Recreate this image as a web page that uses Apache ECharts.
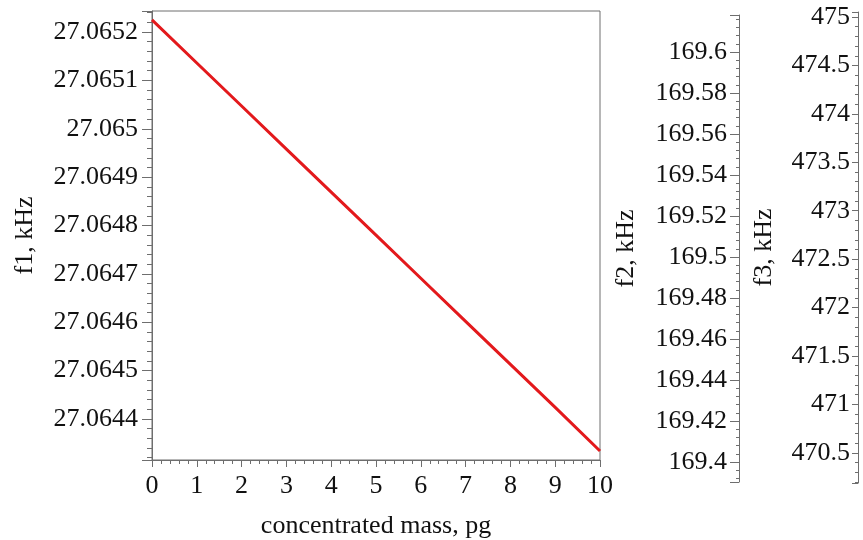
<!DOCTYPE html>
<html>
<head>
<meta charset="utf-8">
<script src="https://cdn.jsdelivr.net/npm/echarts@6/dist/echarts.min.js"></script>
<style>
html,body{margin:0;padding:0;background:#fff;}
#main{width:863px;height:540px;}
</style>
</head>
<body>
<div id="main"></div>
<script>
// concentrated mass, pg
var massPg = [0, 1, 2, 3, 4, 5, 6, 7, 8, 9, 10];
// f1, kHz
var f1Values = [27.065225, 27.065136, 27.065047, 27.064958, 27.064869, 27.064780,
                27.064691, 27.064602, 27.064513, 27.064424, 27.064334];
// axis ranges
var f1Range = [27.0643153, 27.0652434];
var f2Range = [169.39024, 169.61805];
var f3Range = [470.188, 475.052];

var FONT = 'Liberation Serif';
var AXC = '#6e6e6e';
var FS = 26;

var f1Data = [];
for (var i = 0; i < massPg.length; i++) {
	f1Data.push([massPg[i], f1Values[i]]);
}

function sideAxis(grid, range, step, tickLen, margin, name, gap) {
	return {
		type: 'value', gridIndex: grid, position: 'left',
		min: range[0], max: range[1],
		minInterval: step, maxInterval: step, splitNumber: 10,
		name: name, nameLocation: 'middle', nameGap: gap,
		nameTextStyle: {fontFamily: FONT, fontSize: FS, color: '#111'},
		axisLine: {show: true, lineStyle: {color: AXC, width: 1}},
		axisTick: {show: true, length: tickLen, lineStyle: {color: AXC}},
		minorTick: {show: true, splitNumber: 5, length: 3, lineStyle: {color: AXC}},
		splitLine: {show: false},
		axisLabel: {fontFamily: FONT, fontSize: FS, color: '#111', margin: margin,
			showMinLabel: false, showMaxLabel: false}
	};
}

var myChart = echarts.init(document.getElementById('main'));
var option = {
	animation: false,
	backgroundColor: '#fff',
	grid: [
		{left: 152, right: 263, top: 11, bottom: 80, show: true, borderColor: AXC, borderWidth: 1,
			outerBoundsMode: 'none', containLabel: false},
		{left: 739, width: 1, top: 15, bottom: 58, outerBoundsMode: 'none', containLabel: false},
		{left: 858, width: 1, top: 12, bottom: 57, outerBoundsMode: 'none', containLabel: false}
	],
	xAxis: [
		{
			type: 'value', gridIndex: 0, min: 0, max: 10, interval: 1,
			name: 'concentrated mass, pg', nameLocation: 'middle', nameGap: 53,
			nameTextStyle: {fontFamily: FONT, fontSize: FS, color: '#111'},
			axisLine: {show: true, lineStyle: {color: AXC, width: 1}},
			axisTick: {show: true, length: 7, lineStyle: {color: AXC}},
			minorTick: {show: true, splitNumber: 5, length: 4, lineStyle: {color: AXC}},
			splitLine: {show: false},
			axisLabel: {fontFamily: FONT, fontSize: FS, color: '#111', margin: 13}
		},
		{type: 'value', gridIndex: 1, min: 0, max: 10, show: false},
		{type: 'value', gridIndex: 2, min: 0, max: 10, show: false}
	],
	yAxis: [
		{
			type: 'value', gridIndex: 0,
			min: f1Range[0], max: f1Range[1],
			minInterval: 0.0001, maxInterval: 0.0001, splitNumber: 9,
			name: 'f1, kHz', nameLocation: 'middle', nameGap: 114,
			nameTextStyle: {fontFamily: FONT, fontSize: FS, color: '#111'},
			axisLine: {show: true, lineStyle: {color: AXC, width: 1}},
			axisTick: {show: true, length: 10, lineStyle: {color: AXC}},
			minorTick: {show: true, splitNumber: 5, length: 5, lineStyle: {color: AXC}},
			splitLine: {show: false},
			axisLabel: {fontFamily: FONT, fontSize: FS, color: '#111', margin: 14,
				showMinLabel: false, showMaxLabel: false}
		},
		sideAxis(1, f2Range, 0.02, 9, 12, 'f2, kHz', 100),
		sideAxis(2, f3Range, 0.5, 6, 8, 'f3, kHz', 81)
	],
	series: [
		{
			type: 'line', xAxisIndex: 0, yAxisIndex: 0,
			data: f1Data, showSymbol: false,
			lineStyle: {color: '#e3191c', width: 3},
			itemStyle: {color: '#e3191c'}
		}
	]
};
myChart.setOption(option);
</script>
</body>
</html>
